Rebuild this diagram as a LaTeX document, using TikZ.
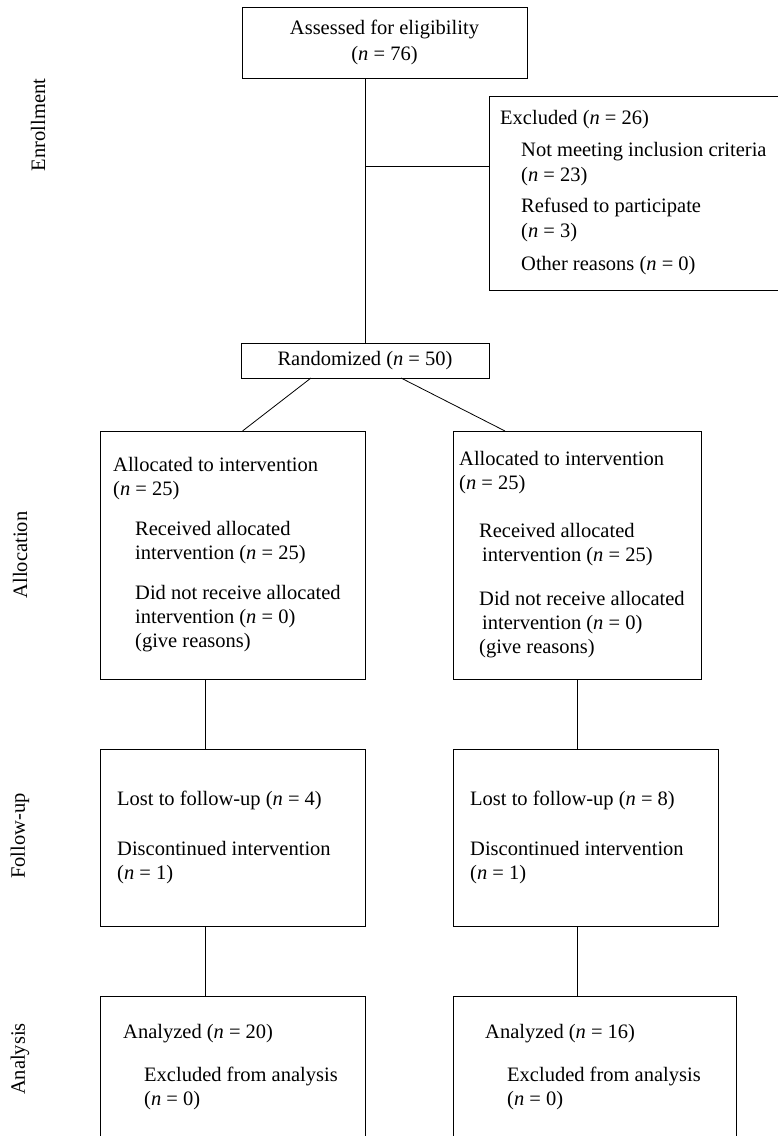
\documentclass[tikz,border=0pt]{standalone}
\usepackage{fontspec}
\setmainfont{Liberation Serif}
\usepackage{tikz}

\begin{document}
\begin{tikzpicture}[x=1pt, y=-1pt,
		box/.style={draw, line width=0.8pt, rectangle, inner sep=0pt, outer sep=0pt, anchor=north west},
		txt/.style={inner sep=0pt, align=left, font=\fontsize{20.5}{24}\selectfont},
		stage/.style={inner sep=0pt, rotate=90, font=\fontsize{20.5}{24}\selectfont}]
	\useasboundingbox (0,0) rectangle (778,1136);
	\clip (0,0) rectangle (778,1136);
	\node[box, minimum width=285pt, minimum height=71pt, align=center, font=\fontsize{20.5}{26}\selectfont] (assess) at (242,7) {Assessed for eligibility\\(\textit{n} = 76)};
	\node[box, minimum width=300pt, minimum height=194pt] (excl) at (489,96) {};
	\node[box, minimum width=248pt, minimum height=35pt, font=\fontsize{20.5}{24}\selectfont] (rand) at (241,343) {Randomized (\textit{n} = 50)};
	\node[box, minimum width=265pt, minimum height=248pt] (allocA) at (100,431) {};
	\node[box, minimum width=248pt, minimum height=248pt] (allocB) at (453,431) {};
	\node[box, minimum width=265pt, minimum height=177pt] (followA) at (100,749) {};
	\node[box, minimum width=265pt, minimum height=177pt] (followB) at (453,749) {};
	\node[box, minimum width=265pt, minimum height=142pt] (anaA) at (100,996) {};
	\node[box, minimum width=283pt, minimum height=142pt] (anaB) at (453,996) {};
	\node[txt, anchor=west, font=\fontsize{20.5}{25}\selectfont] (exclT) at ([xshift=11pt]excl.west) {Excluded (\textit{n} = 26)\\[7pt]
		\hspace*{21pt}Not meeting inclusion criteria\\
		\hspace*{21pt}(\textit{n} = 23)\\[6pt]
		\hspace*{21pt}Refused to participate\\
		\hspace*{21pt}(\textit{n} = 3)\\[8pt]
		\hspace*{21pt}Other reasons (\textit{n} = 0)};
	\node[txt, anchor=west] (allocAT) at ([xshift=13pt]allocA.west) {Allocated to intervention\\
		(\textit{n} = 25)\\[16pt]
		\hspace*{22pt}Received allocated\\
		\hspace*{22pt}intervention (\textit{n} = 25)\\[16pt]
		\hspace*{22pt}Did not receive allocated\\
		\hspace*{22pt}intervention (\textit{n} = 0)\\
		\hspace*{22pt}(give reasons)};
	\node[txt, anchor=west] (allocBT) at ([xshift=6pt]allocB.west) {Allocated to intervention\\
		(\textit{n} = 25)\\[24pt]
		\hspace*{20pt}Received allocated\\
		\hspace*{23pt}intervention (\textit{n} = 25)\\[20pt]
		\hspace*{20pt}Did not receive allocated\\
		\hspace*{23pt}intervention (\textit{n} = 0)\\
		\hspace*{20pt}(give reasons)};
	\node[txt, anchor=west] (followAT) at ([xshift=17pt]followA.west) {Lost to follow-up (\textit{n} = 4)\\[26pt]
		Discontinued intervention\\
		(\textit{n} = 1)};
	\node[txt, anchor=west] (followBT) at ([xshift=17pt]followB.west) {Lost to follow-up (\textit{n} = 8)\\[26pt]
		Discontinued intervention\\
		(\textit{n} = 1)};
	\node[txt, anchor=west] (anaAT) at ([xshift=23pt]anaA.west) {Analyzed (\textit{n} = 20)\\[19pt]
		\hspace*{21pt}Excluded from analysis\\
		\hspace*{21pt}(\textit{n} = 0)};
	\node[txt, anchor=west] (anaBT) at ([xshift=32pt]anaB.west) {Analyzed (\textit{n} = 16)\\[19pt]
		\hspace*{22pt}Excluded from analysis\\
		\hspace*{22pt}(\textit{n} = 0)};
	\node[stage] (enroll) at (38,125) {Enrollment};
	\node[stage] (alloc) at (20,555) {Allocation};
	\node[stage] (follow) at (20,836) {Follow-up};
	\node[stage] (analysis) at (20,1059) {Analysis};
	\coordinate (branch) at (rand.north |- 0,166);
	\draw[line width=0.8pt] (assess.south -| rand.north) -- (rand.north);
	\draw[line width=0.8pt] (branch) -- (branch -| excl.west);
	\draw[line width=0.8pt] ([xshift=-54pt]rand.south) -- ([xshift=10pt]allocA.north);
	\draw[line width=0.8pt] ([xshift=36pt]rand.south) -- ([xshift=-72pt]allocB.north);
	\draw[line width=0.8pt] ([xshift=-27.5pt]allocA.south) -- ([xshift=-27.5pt]allocA.south |- followA.north);
	\draw[line width=0.8pt] (allocB.south) -- (allocB.south |- followB.north);
	\draw[line width=0.8pt] ([xshift=-27.5pt]followA.south) -- ([xshift=-27.5pt]followA.south |- anaA.north);
	\draw[line width=0.8pt] (allocB.south |- followB.south) -- (allocB.south |- anaB.north);
\end{tikzpicture}
\end{document}
